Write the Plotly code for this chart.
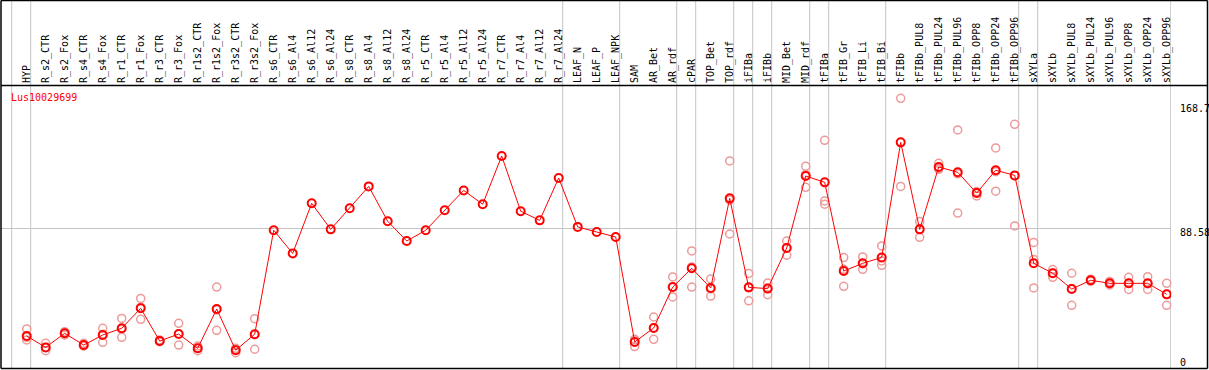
import plotly.graph_objects as go

categories = ["HYP", "R_s2_CTR", "R_s2_Fox", "R_s4_CTR", "R_s4_Fox", "R_r1_CTR", "R_r1_Fox",
              "R_r3_CTR", "R_r3_Fox", "R_r1s2_CTR", "R_r1s2_Fox", "R_r3s2_CTR", "R_r3s2_Fox",
              "R_s6_CTR", "R_s6_Al4", "R_s6_Al12", "R_s6_Al24", "R_s8_CTR", "R_s8_Al4", "R_s8_Al12",
              "R_s8_Al24", "R_r5_CTR", "R_r5_Al4", "R_r5_Al12", "R_r5_Al24", "R_r7_CTR", "R_r7_Al4",
              "R_r7_Al12", "R_r7_Al24", "LEAF_N", "LEAF_P", "LEAF_NPK", "SAM", "AR_Bet", "AR_rdf",
              "cPAR", "TOP_Bet", "TOP_rdf", "iFIBa", "iFIBb", "MID_Bet", "MID_rdf", "tFIBa",
              "tFIB_Gr", "tFIB_Li", "tFIB_Bi", "tFIBb", "tFIBb_PUL8", "tFIBb_PUL24", "tFIBb_PUL96",
              "tFIBb_OPP8", "tFIBb_OPP24", "tFIBb_OPP96", "sXYLa", "sXYLb", "sXYLb_PUL8",
              "sXYLb_PUL24", "sXYLb_PUL96", "sXYLb_OPP8", "sXYLb_OPP24", "sXYLb_OPP96"]

means = [19.3, 12.0, 21.1, 13.5, 20.0, 24.3, 37.2, 16.1, 20.6, 11.4, 36.7, 10.2, 20.5,
         87.5, 72.6, 104.9, 88.1, 101.7, 115.8, 93.3, 80.6, 87.5, 100.4, 113.2, 104.3, 135.4,
         99.8, 93.9, 121.2, 89.7, 86.4, 83.2,
         15.5, 24.5, 50.9, 63.0, 50.3, 108.1, 50.7, 49.9, 76.1, 122.5, 118.4, 61.2, 66.2, 70.0,
         144.2, 88.1, 128.3, 124.9, 111.5, 126.2, 122.9, 66.2, 59.8, 49.6, 55.3, 53.3, 53.3,
         53.3, 46.2]

N19 = [None] * 19
rep_a = [23.9, 14.6, 22.1, 14.6, 24.3, 30.7, 43.6, 16.8, 27.5, 12.9, 50.9, 11.4, 30.5] + N19 + \
        [16.8, 31.6, 57.4, 74.2, 56.1, 132.2, 59.7, 53.5, 80.6, 128.8, 145.5, 69.9, 70.3, 77.4,
         172.6, 93.1, 130.7, 152.2, 109.6, 140.6, 155.8, 79.7, 62.2, 59.8, 56.0, 54.5, 57.2,
         57.6, 53.3]
rep_b = [16.8, 9.9, 20.0, 12.9, 15.3, 18.5, 30.1, 15.7, 13.5, 9.9, 23.0, 8.6, 10.8] + N19 + \
        [12.5, 17.2, 44.5, 50.9, 45.1, 85.1, 42.0, 46.0, 71.4, 115.2, 106.4, 51.4, 62.3, 64.9,
         115.8, 83.0, 126.8, 98.6, 112.5, 112.7, 90.3, 50.3, 57.2, 39.1, 54.6, 52.3, 49.4,
         49.4, 39.1]
rep_c = [18.5, 12.0, 21.2, 13.0, 20.4, 23.7, 37.9, 15.8, 20.8, 11.4, 36.2, 10.6, 20.2] + N19 + \
        [17.2, 24.7, 50.8, 63.9, 49.7, 107.0, 50.4, 50.2, 76.3, 123.5, 104.3, 62.3, 66.0, 67.7,
         None, 88.2, 127.4, 123.9, 112.4, 125.3, 122.6, 68.7, 60.0, 49.9, 55.3, 53.1, 53.3,
         53.0, 46.2]

group_ends = [-1, 0, 28, 31, 34, 35, 37, 38, 39, 41, 42, 45, 52, 53, 60]
y_tick_vals = [168.7, 88.58, 0]
y_tick_text = ["168.7", "88.58", "0"]
gene_name = "Lus10029699"

W, H = 1209, 370
L, R, T, B = 1, 38, 86, 2
pw, ph = W - L - R, H - T - B
px_per_cat = 19.0
first_px = 26.7
x0 = -(first_px - L) / px_per_cat
x1 = x0 + pw / px_per_cat
px_per_unit = 1.551
zero_px = 366.0
y1 = (zero_px - T) / px_per_unit
y0 = y1 - ph / px_per_unit

def px_to_paper_x(p):
    return (p - L) / pw

def px_to_paper_y(p):
    return (H - B - p) / ph

idx = list(range(len(categories)))
rep_x = idx + idx + idx
rep_y = rep_a + rep_b + rep_c

fig = go.Figure()
fig.add_trace(go.Scatter(
    x=rep_x, y=rep_y, mode="markers",
    marker=dict(symbol="circle-open", size=8, color="#EC9A9A", line=dict(width=1.5, color="#EC9A9A")),
    hoverinfo="skip", showlegend=False, cliponaxis=False))
fig.add_trace(go.Scatter(
    x=idx, y=means, mode="lines+markers",
    line=dict(color="#FF0000", width=1),
    marker=dict(symbol="circle-open", size=8, color="#FF0000", line=dict(width=2, color="#FF0000")),
    showlegend=False))

shapes = []
top_paper = px_to_paper_y(0)
for g in group_ends:
    xv = g + 4.0 / px_per_cat
    shapes.append(dict(type="line", xref="x", yref="paper", x0=xv, x1=xv, y0=0, y1=top_paper,
                       line=dict(color="#C4C4C4", width=1), layer="below"))
right_paper = px_to_paper_x(1207.5)
left_paper = px_to_paper_x(1.0)
for (ya, yb, xa, xb) in [
    (px_to_paper_y(0.5), px_to_paper_y(0.5), left_paper, right_paper),
    (px_to_paper_y(85.5), px_to_paper_y(85.5), left_paper, right_paper),
    (px_to_paper_y(368.5), px_to_paper_y(368.5), left_paper, right_paper),
]:
    shapes.append(dict(type="line", xref="paper", yref="paper", x0=xa, x1=xb, y0=ya, y1=yb,
                       line=dict(color="black", width=1.5)))
for xp in [left_paper, right_paper]:
    shapes.append(dict(type="line", xref="paper", yref="paper", x0=xp, x1=xp,
                       y0=px_to_paper_y(368.5), y1=px_to_paper_y(0.5),
                       line=dict(color="black", width=1.5)))

annotations = [dict(text=gene_name, xref="paper", yref="paper", x=px_to_paper_x(9), y=px_to_paper_y(97),
                    xanchor="left", yanchor="middle", showarrow=False,
                    font=dict(family="DejaVu Sans Mono", size=10, color="#FF0000"))]
shifts = [-4, -4, 4]
for v, t, s in zip(y_tick_vals, y_tick_text, shifts):
    annotations.append(dict(text=t, xref="paper", yref="y", x=px_to_paper_x(1177.5), y=v,
                            xanchor="left", yanchor="middle", yshift=s, showarrow=False,
                            font=dict(family="DejaVu Sans Mono", size=10, color="black")))

fig.update_layout(
    width=W, height=H, margin=dict(l=L, r=R, t=T, b=B, pad=0),
    paper_bgcolor="white", plot_bgcolor="white",
    shapes=shapes, annotations=annotations,
    xaxis=dict(range=[x0, x1], side="top", tickmode="array", tickvals=idx, ticktext=categories,
               tickangle=-90, showgrid=False, zeroline=False, ticks="", automargin=False,
               ticklabelstandoff=2,
               tickfont=dict(family="DejaVu Sans Mono", size=10, color="black"), fixedrange=True),
    yaxis=dict(range=[y0, y1], tickmode="array", tickvals=[88.58], showticklabels=False,
               showgrid=True, gridcolor="#C4C4C4", gridwidth=1, zeroline=False, ticks="",
               automargin=False, fixedrange=True),
)

fig.write_html("out.html", config={"displayModeBar": False},
               post_script="document.body.style.margin='0';document.body.style.padding='0';")
